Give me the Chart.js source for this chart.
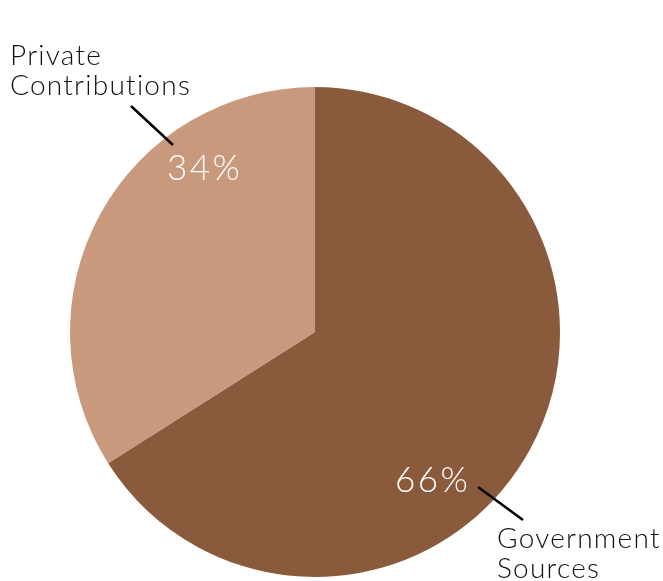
<!DOCTYPE html>
<html>
<head>
<meta charset="utf-8">
<script src="https://cdn.jsdelivr.net/npm/chart.js@4/dist/chart.umd.min.js"></script>
<style>
html,body{margin:0;padding:0;background:#fff;}
#wrap{width:663px;height:581px;position:relative;}
</style>
</head>
<body>
<div id="wrap"><canvas id="c" width="663" height="581"></canvas></div>
<script>
const categories = ["Government Sources", "Private Contributions"];
const values = [66, 34];
const colors = ["#8A5A3D", "#C8997C"];

const labelPlugin = {
  id: 'labels',
  afterDatasetsDraw(chart) {
    const ctx = chart.ctx;
    const arcs = chart.getDatasetMeta(0).data;
    const a = arcs[0];
    const cx = a.x, cy = a.y, R = a.outerRadius;
    const P = (fx, fy) => [cx + fx * R, cy + fy * R];
    ctx.save();
    // percentages
    ctx.fillStyle = '#ffffff';
    ctx.font = '300 35px Lato';
    ctx.letterSpacing = '2.5px';
    ctx.textBaseline = 'alphabetic';
    ctx.textAlign = 'left';
    let p = P((167 - 315) / 245, (180 - 332) / 245);
    ctx.fillText(values[1] + '%', p[0], p[1]);
    p = P((395 - 315) / 245, (492 - 332) / 245);
    ctx.fillText(values[0] + '%', p[0], p[1]);
    // leader lines
    ctx.strokeStyle = '#000';
    ctx.lineWidth = 2.5;
    ctx.beginPath();
    let s = P((131 - 315) / 245, (106 - 332) / 245), e = P((173 - 315) / 245, (145 - 332) / 245);
    ctx.moveTo(s[0], s[1]); ctx.lineTo(e[0], e[1]);
    s = P((478 - 315) / 245, (487 - 332) / 245); e = P((523 - 315) / 245, (520 - 332) / 245);
    ctx.moveTo(s[0], s[1]); ctx.lineTo(e[0], e[1]);
    ctx.stroke();
    // category labels
    ctx.fillStyle = '#111';
    ctx.font = '300 28px Lato';
    ctx.letterSpacing = '1.25px';
    p = P((10 - 315) / 245, (65 - 332) / 245);
    ctx.fillText('Private', p[0], p[1]);
    ctx.fillText('Contributions', p[0], p[1] + 30);
    p = P((497 - 315) / 245, (548 - 332) / 245);
    ctx.fillText('Government', p[0], p[1]);
    ctx.fillText('Sources', p[0], p[1] + 30);
    ctx.restore();
  }
};

new Chart(document.getElementById('c'), {
  type: 'pie',
  data: {
    labels: categories,
    datasets: [{ data: values, backgroundColor: colors, borderWidth: 0 }]
  },
  options: {
    responsive: false,
    animation: false,
    layout: { padding: { left: 70, right: 103, top: 87, bottom: 4 } },
    plugins: { legend: { display: false }, tooltip: { enabled: false } }
  },
  plugins: [labelPlugin]
});
</script>
</body>
</html>
